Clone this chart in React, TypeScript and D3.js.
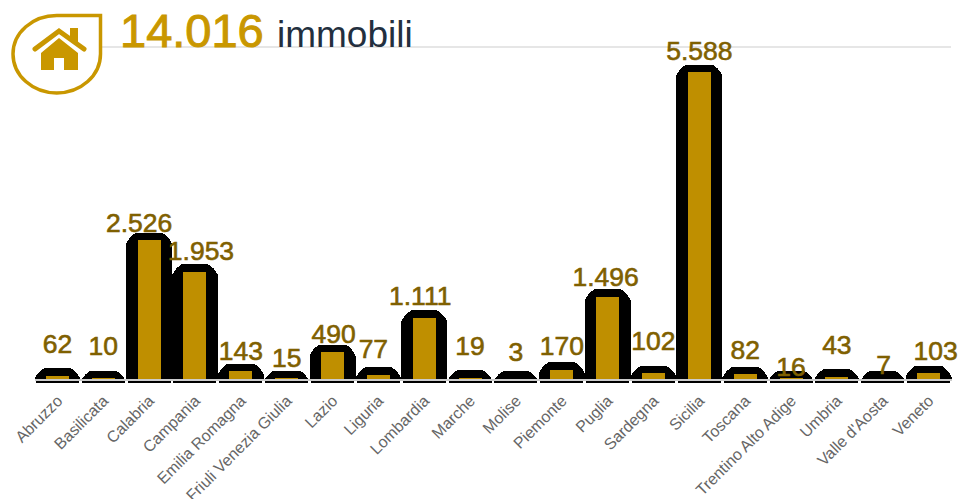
import { formatLocale, scaleBand, scaleLinear, sum } from "d3";

const WIDTH = 959;
const HEIGHT = 499;
const GOLD = "#bf8f00";
const ICON_GOLD = "#c99700";
const LABEL_GOLD = "#7f6000";

const regions = [
  "Abruzzo", "Basilicata", "Calabria", "Campania", "Emilia Romagna",
  "Friuli Venezia Giulia", "Lazio", "Liguria", "Lombardia", "Marche",
  "Molise", "Piemonte", "Puglia", "Sardegna", "Sicilia",
  "Toscana", "Trentino Alto Adige", "Umbria", "Valle d'Aosta", "Veneto",
];
const properties = [62, 10, 2526, 1953, 143, 15, 490, 77, 1111, 19, 3, 170, 1496, 102, 5588, 82, 16, 43, 7, 103];

// the labels were moved around by the original layout to avoid each other
const labelGap = [23, 23, 8, 12, 11, 11, 9, 17, 13, 23, 18, 15, 11, 23, 12, 15, 2, 23, 5, 13];
const labelShift = [0, 0, -10, 6, 0, 0, 1, -5, -4, 0, 0, 0, -2, 0, 0, 0, 0, 0, 1, 7];

const it = formatLocale({ decimal: ",", thousands: ".", grouping: [3], currency: ["", " €"] });
const fmt = it.format(",d");

// black halo around a bar, the corners are closer to a chamfer than to a circle
function halo(cx: number, top: number, bottom: number) {
  const l = cx - 23;
  const r = cx + 23;
  const t = top - 7.5;
  return `M${l} ${bottom} V${t + 11} Q${l + 4} ${t + 3} ${l + 10} ${t} H${r - 10} Q${r - 4} ${t + 3} ${r} ${t + 11} V${bottom} Z`;
}

export default function App() {
  const x = scaleBand().domain(regions).range([34.5, 951.5]);
  const y = scaleLinear().domain([0, 5588]).range([379, 72]);
  const font = "'Liberation Sans', Arial, sans-serif";

  return (
    <svg width={WIDTH} height={HEIGHT} viewBox={`0 0 ${WIDTH} ${HEIGHT}`}
      style={{ position: "absolute", left: 0, top: 0, fontFamily: font }}>
      <defs>
        <clipPath id="plot">
          <rect x={0} y={0} width={WIDTH} height={379} />
        </clipPath>
      </defs>
      <line x1={100} x2={951} y1={47} y2={47} stroke="#e6e6e6" strokeWidth={2} />

      {/* drop with the house */}
      <path d="M100.5 15.5 V54 A43.75 39 0 0 1 13 54 A43.75 38.5 0 0 1 56.75 15.5 Z" fill="#fff" stroke={ICON_GOLD} strokeWidth={3.5} />
      <path d="M70 28 H78 V46 L70 40 Z" fill={ICON_GOLD} />
      <path d="M35 49 L59 31 L84 49" fill="none" stroke={ICON_GOLD} strokeWidth={5} strokeLinecap="round" />
      <path d="M59 38 L78 53 V70 H64 V58 H54 V70 H41 V53 Z" fill={ICON_GOLD} />

      <text x={120} y={47} fontSize={47} fill={ICON_GOLD} stroke={ICON_GOLD} strokeWidth={1}>{fmt(sum(properties))}</text>
      <text x={277} y={47} fontSize={37} fill="#232f3e">immobili</text>

      <g clipPath="url(#plot)">
        {regions.map((region, i) => {
          const cx = x(region)! + x.bandwidth() / 2;
          return <path key={region} d={halo(cx, y(properties[i]), HEIGHT)} fill="#000" shapeRendering="crispEdges" />;
        })}
      </g>
      {regions.map((region, i) => {
        const top = y(properties[i]);
        const cx = x(region)! + x.bandwidth() / 2;
        return (
          <g key={region} shapeRendering="crispEdges">
            <rect x={cx - 11.5} y={top} width={23} height={y(0) - top} fill={GOLD} />
            <rect x={cx - 21.5} y={381} width={43} height={1.5} fill="#000" />
          </g>
        );
      })}

      <rect x={x.range()[0]} y={379} width={x.range()[1] - x.range()[0]} height={2} fill="#ccc" shapeRendering="crispEdges" />

      {regions.map((region, i) => {
        const cx = x(region)! + x.bandwidth() / 2;
        return (
          <text key={region} x={cx + labelShift[i]} y={y(properties[i]) - labelGap[i]} textAnchor="middle" fontSize={26.5} fill={LABEL_GOLD} stroke={LABEL_GOLD} strokeWidth={0.6}>
            {fmt(properties[i])}
          </text>
        );
      })}

      {regions.map((region) => {
        const cx = x(region)! + x.bandwidth() / 2;
        return (
          <text key={region} transform={`translate(${cx + 6},402) rotate(-45)`} textAnchor="end" fontSize={16} fill="#666">
            {region}
          </text>
        );
      })}
    </svg>
  );
}
